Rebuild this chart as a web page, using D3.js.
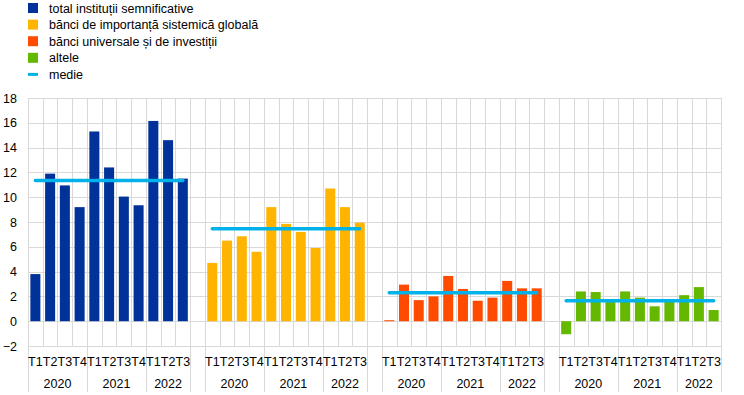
<!DOCTYPE html>
<html>
<head>
<meta charset="utf-8">
<script src="https://cdn.jsdelivr.net/npm/d3@7"></script>
<style>
  body { margin: 0; background: #fff; }
  svg { font-family: Arial, "Liberation Sans", sans-serif; }
</style>
</head>
<body>
<div id="chart"></div>
<script>
// Data
const seriesNames = ['total instituții semnificative', 'bănci de importanță sistemică globală', 'bănci universale și de investiții', 'altele'];
const seriesColors = ['#003299', '#ffb400', '#ff4b00', '#65b800'];
const meanColor = '#00b1ea';
const quarters = ['T1', 'T2', 'T3', 'T4', 'T1', 'T2', 'T3', 'T4', 'T1', 'T2', 'T3'];
const years = ['2020', '2021', '2022'];
const yearSpans = [4, 4, 3];

const totalValues = [3.8, 11.9, 10.95, 9.2, 15.3, 12.4, 10.05, 9.35, 16.15, 14.6, 11.5];
const gsibValues = [4.7, 6.5, 6.85, 5.6, 9.2, 7.85, 7.2, 5.9, 10.7, 9.2, 7.95];
const universalValues = [0.08, 2.95, 1.7, 2.0, 3.65, 2.6, 1.65, 1.9, 3.25, 2.65, 2.65];
const otherValues = [-1.05, 2.4, 2.35, 1.6, 2.4, 1.9, 1.2, 1.65, 2.1, 2.75, 0.9];
const meanValues = [11.35, 7.45, 2.3, 1.65];

const allValues = [totalValues, gsibValues, universalValues, otherValues];
const yTicks = [-2, 0, 2, 4, 6, 8, 10, 12, 14, 16, 18];

// Layout
const W = 744, H = 395;
const plotLeft = 28, plotRight = 721, plotTop = 98, plotBottom = 346;
const fontSize = '12.5px';

const svg = d3.select('#chart').append('svg')
  .attr('width', W).attr('height', H);

// one band per bar, plus one empty band between groups
const keys = [];
allValues.forEach((vals, g) => {
  vals.forEach((v, i) => keys.push(g + '-' + i));
  if (g < allValues.length - 1) keys.push('gap' + g);
});

const x = d3.scaleBand().domain(keys).range([plotLeft, plotRight]).padding(0);
const y = d3.scaleLinear().domain([-2, 18]).range([plotBottom, plotTop]);
const bw = x.bandwidth();

// Grid: horizontal
svg.append('g')
  .selectAll('line')
  .data(yTicks)
  .join('line')
  .attr('x1', plotLeft).attr('x2', plotRight)
  .attr('y1', d => Math.round(y(d)) + 0.5).attr('y2', d => Math.round(y(d)) + 0.5)
  .attr('stroke', '#d9d9d9');

// Grid: vertical (every band boundary in plot, year/group boundaries extend down)
const boundaries = keys.map(k => x(k)).concat([plotRight]);
const longLines = [plotLeft, plotRight];
allValues.forEach((vals, g) => {
  let start = 0;
  yearSpans.forEach(s => {
    longLines.push(x(g + '-' + start));
    start += s;
  });
  longLines.push(x(g + '-' + (vals.length - 1)) + bw);
});
svg.append('g')
  .selectAll('line')
  .data(boundaries)
  .join('line')
  .attr('x1', d => Math.round(d) + 0.5).attr('x2', d => Math.round(d) + 0.5)
  .attr('y1', plotTop)
  .attr('y2', d => longLines.some(v => Math.abs(v - d) < 0.01) ? 392 : plotBottom)
  .attr('stroke', '#d9d9d9');

// Y axis labels
svg.append('g')
  .attr('transform', 'translate(17,0)')
  .call(d3.axisLeft(y).tickValues(yTicks).tickSize(0).tickPadding(0))
  .call(g => g.select('.domain').remove())
  .selectAll('text')
  .attr('font-size', fontSize)
  .attr('font-family', 'Arial, "Liberation Sans", sans-serif')
  .attr('fill', '#000');

// Bars
allValues.forEach((vals, g) => {
  svg.append('g')
    .selectAll('rect')
    .data(vals)
    .join('rect')
    .attr('x', (d, i) => x(g + '-' + i) + bw * 0.16)
    .attr('width', bw * 0.68)
    .attr('y', d => y(Math.max(0, d)))
    .attr('height', d => Math.abs(y(d) - y(0)))
    .attr('fill', seriesColors[g]);
});

// Mean lines
meanValues.forEach((m, g) => {
  const n = allValues[g].length;
  svg.append('line')
    .attr('x1', x(g + '-0') + bw / 2)
    .attr('x2', x(g + '-' + (n - 1)) + bw / 2)
    .attr('y1', y(m)).attr('y2', y(m))
    .attr('stroke', meanColor)
    .attr('stroke-width', 3.5)
    .attr('stroke-linecap', 'round');
});

// Category axis: quarter labels and years
allValues.forEach((vals, g) => {
  svg.append('g')
    .selectAll('text')
    .data(quarters)
    .join('text')
    .attr('x', (d, i) => x(g + '-' + i) + bw / 2)
    .attr('y', 366)
    .attr('text-anchor', 'middle')
    .attr('font-size', fontSize)
    .text(d => d);

  let start = 0;
  years.forEach((yr, j) => {
    const x0 = x(g + '-' + start);
    const x1 = x(g + '-' + (start + yearSpans[j] - 1)) + bw;
    svg.append('text')
      .attr('x', (x0 + x1) / 2)
      .attr('y', 388)
      .attr('text-anchor', 'middle')
      .attr('font-size', fontSize)
      .text(yr);
    start += yearSpans[j];
  });
});

// Legend
const legend = svg.append('g').attr('transform', 'translate(28,0)');
seriesNames.forEach((name, i) => {
  const ly = 8 + i * 16.6;
  legend.append('rect')
    .attr('x', 0).attr('y', ly - 5)
    .attr('width', 10).attr('height', 10)
    .attr('fill', seriesColors[i]);
  legend.append('text')
    .attr('x', 21).attr('y', ly + 4.5)
    .attr('font-size', fontSize)
    .text(name);
});
const my = 8 + 4 * 16.6;
legend.append('line')
  .attr('x1', 0).attr('x2', 10)
  .attr('y1', my).attr('y2', my)
  .attr('stroke', meanColor).attr('stroke-width', 3);
legend.append('text')
  .attr('x', 21).attr('y', my + 4.5)
  .attr('font-size', fontSize)
  .text('medie');
</script>
</body>
</html>
